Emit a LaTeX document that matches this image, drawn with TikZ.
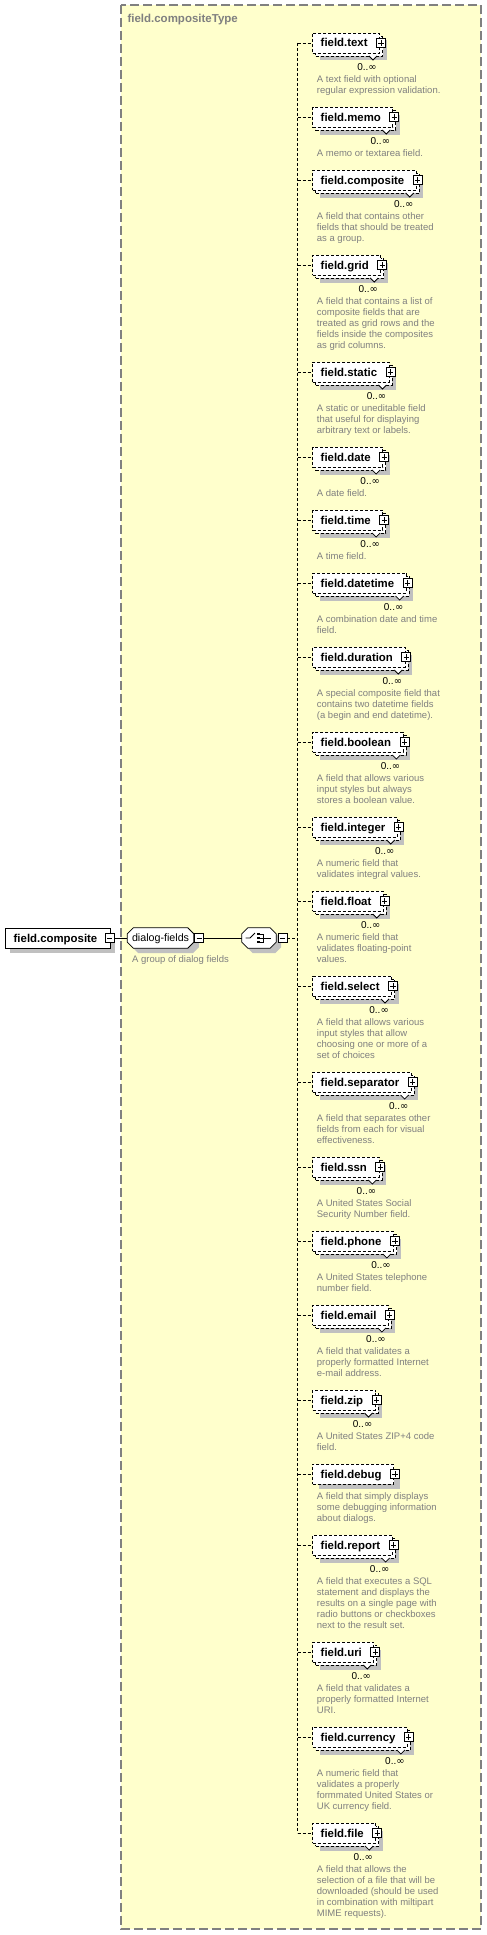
\documentclass[tikz,border=0pt]{standalone}
\usepackage{fontspec}
\setmainfont{Liberation Sans}
\newfontfamily\symfont{DejaVu Sans}
\usetikzlibrary{calc,shadows}
\definecolor{ylw}{HTML}{FFFFCC}
\definecolor{bordergray}{HTML}{808080}
\definecolor{shd}{HTML}{C0C0C0}
\definecolor{descgray}{HTML}{808080}
\pgfdeclarelayer{bg}
\pgfsetlayers{bg,main}
\tikzset{
  dsh/.style={dash pattern=on 3pt off 2pt},
  elname/.style={anchor=west, inner xsep=0pt, inner ysep=0pt, minimum height=20pt,
    text height=8.2pt, text depth=0.2pt, font=\fontsize{11.4}{13}\selectfont\bfseries},
  multbox/.style={elname, draw=black, dsh, line width=0.8pt, fill=white,
    general shadow={shadow xshift=7pt, shadow yshift=-7.5pt, fill=shd},
    general shadow={shadow xshift=3pt, shadow yshift=-3pt, fill=white, draw=black, dsh, line width=0.8pt}},
  singlebox/.style={elname, draw=black, dsh, line width=0.8pt, fill=white,
    general shadow={shadow xshift=6pt, shadow yshift=-5pt, fill=shd}},
  rootbox/.style={elname, draw=black, solid, line width=0.8pt, fill=white,
    general shadow={shadow xshift=4.5pt, shadow yshift=-4.5pt, fill=shd}},
  grp/.style={anchor=west, inner xsep=4.5pt, inner ysep=0pt, minimum height=20pt,
    text height=8pt, text depth=0.2pt, font=\fontsize{10.7}{13}\selectfont},
  seqn/.style={inner sep=0pt, minimum width=34pt, minimum height=20pt},
  octstyle/.style={draw=black, solid, line width=0.8pt, fill=white,
    general shadow={shadow xshift=5pt, shadow yshift=-5pt, fill=shd}},
  pbox/.style={draw=black, solid, line width=0.8pt, fill=white, minimum size=9pt, inner sep=0pt,
    path picture={\draw[line width=0.8pt]
      ([xshift=-2.6pt]path picture bounding box.center) -- ([xshift=2.6pt]path picture bounding box.center)
      ([yshift=-2.6pt]path picture bounding box.center) -- ([yshift=2.6pt]path picture bounding box.center);}},
  mbox/.style={draw=black, solid, line width=0.8pt, fill=white, minimum size=9pt, inner sep=0pt,
    path picture={\draw[line width=0.8pt]
      ([xshift=-2.6pt]path picture bounding box.center) -- ([xshift=2.6pt]path picture bounding box.center);}},
  symline/.style={draw=black, solid, line width=0.8pt},
  conn/.style={draw=black, line width=0.8pt, dsh},
  solidconn/.style={draw=black, line width=0.8pt},
  mult/.style={anchor=base east, inner sep=0pt, font=\fontsize{10}{12}\selectfont},
  desc/.style={anchor=north west, inner sep=0pt, align=left, text=descgray,
    font=\fontsize{9.5}{11}\selectfont},
  titletext/.style={anchor=base west, inner sep=0pt, text=bordergray,
    font=\fontsize{11.5}{13}\selectfont\bfseries},
}
\newcommand\multel[4]{%
  \node[multbox] (#1) at (312.3,#2) {\hspace*{8pt}#3\hspace*{12pt}};
  \draw[symline, fill=white] ($(#1.east)+(-11,13)$) -- ($(#1.east)+(-7,17)$) -- ($(#1.east)+(-3,13)$);
  \node[pbox] (#1p) at ($(#1.east)+(1,0)$) {};
  \node[mult] (#1m) at ($(#1.east)+(-3,27.5)$) {0..{\symfont ∞}};
  \node[desc] (#1d) at (316.7,#2+32) {#4};
  \begin{pgfonlayer}{bg}\draw[conn] (#1.west -| vtop) -- (#1.west);\end{pgfonlayer}
}
\newcommand\singleel[4]{%
  \node[singlebox] (#1) at (312.3,#2) {\hspace*{8pt}#3\hspace*{12pt}};
  \node[pbox] (#1p) at ($(#1.east)+(1,0)$) {};
  \node[desc] (#1d) at (316.7,#2+18) {#4};
  \begin{pgfonlayer}{bg}\draw[conn] (#1.west -| vtop) -- (#1.west);\end{pgfonlayer}
}
\newcommand\octo[2]{%
  \draw[octstyle] ($(#1.north west)+(#2,0)$) -- ($(#1.north east)+(-#2,0)$) -- ($(#1.north east)+(0,#2)$)
    -- ($(#1.south east)+(0,-#2)$) -- ($(#1.south east)+(-#2,0)$) -- ($(#1.south west)+(#2,0)$)
    -- ($(#1.south west)+(0,-#2)$) -- ($(#1.north west)+(0,#2)$) -- cycle;}
\begin{document}
\begin{tikzpicture}[x=1pt,y=-1pt]
\useasboundingbox (0,0) rectangle (487,1935);
\begin{pgfonlayer}{bg}
  \draw[fill=ylw, draw=bordergray, line width=1.2pt, dash pattern=on 9pt off 4pt] (121,5) rectangle (481,1929);
\end{pgfonlayer}
\node[titletext] (title) at (127.3,23) {field.compositeType};
\coordinate (vtop) at (297.5,43);
\coordinate (vbot) at (297.5,1833);
\begin{pgfonlayer}{bg}\draw[conn] (vtop) -- (vbot);\end{pgfonlayer}

% root element
\node[rootbox] (root) at (5.3,938) {\hspace*{8pt}field.composite\hspace*{13pt}};
\node[mbox] (rootm) at ($(root.east)+(-1,0)$) {};
% group
\node[grp] (dlg) at (127.3,938) {dialog-fields};
\node[mbox] (dlgm) at ($(dlg.east)+(5.3,0)$) {};
\node[desc] (dlgd) at (132,955) {A group of dialog fields};
% sequence compositor
\node[seqn] (seq) at (259,938) {};
\node[mbox] (seqm) at ($(seq.east)+(6.3,0)$) {};
\coordinate (vmid) at (seqm.east -| vtop);
\begin{pgfonlayer}{bg}
  \draw[solidconn] (rootm.east) -- (dlg.west);
  \draw[solidconn] (dlgm.east) -- (seq.west);
  \draw[conn] (seqm.east) -- (vmid);
  \octo{dlg}{6}
  \octo{seq}{6}
\end{pgfonlayer}
% sequence symbol
\draw[symline] ($(seq.center)+(-13.5,0)$) -- ($(seq.center)+(-9,0)$) -- ($(seq.center)+(-4,-5)$);
\fill ($(seq.center)+(-1.8,-5.3)$) rectangle ($(seq.center)+(0.8,-2.7)$);
\fill ($(seq.center)+(-1.8,-1.3)$) rectangle ($(seq.center)+(0.8,1.3)$);
\fill ($(seq.center)+(-1.8,2.7)$) rectangle ($(seq.center)+(0.8,5.3)$);
\draw[symline] ($(seq.center)+(0.8,-4)$) -- ($(seq.center)+(4,-4)$) -- ($(seq.center)+(4,4)$) -- ($(seq.center)+(0.8,4)$);
\draw[symline] ($(seq.center)+(0.8,0)$) -- ($(seq.center)+(12,0)$);

% children
\multel{e1}{43}{field.text}{A text field with optional\\regular expression validation.}
\multel{e2}{117}{field.memo}{A memo or textarea field.}
\multel{e3}{180}{field.composite}{A field that contains other\\fields that should be treated\\as a group.}
\multel{e4}{265}{field.grid}{A field that contains a list of\\composite fields that are\\treated as grid rows and the\\fields inside the composites\\as grid columns.}
\multel{e5}{372}{field.static}{A static or uneditable field\\that useful for displaying\\arbitrary text or labels.}
\multel{e6}{457}{field.date}{A date field.}
\multel{e7}{520}{field.time}{A time field.}
\multel{e8}{583}{field.datetime}{A combination date and time\\field.}
\multel{e9}{657}{field.duration}{A special composite field that\\contains two datetime fields\\(a begin and end datetime).}
\multel{e10}{742}{field.boolean}{A field that allows various\\input styles but always\\stores a boolean value.}
\multel{e11}{827}{field.integer}{A numeric field that\\validates integral values.}
\multel{e12}{901}{field.float}{A numeric field that\\validates floating-point\\values.}
\multel{e13}{986}{field.select}{A field that allows various\\input styles that allow\\choosing one or more of a\\set of choices}
\multel{e14}{1082}{field.separator}{A field that separates other\\fields from each for visual\\effectiveness.}
\multel{e15}{1167}{field.ssn}{A United States Social\\Security Number field.}
\multel{e16}{1241}{field.phone}{A United States telephone\\number field.}
\multel{e17}{1315}{field.email}{A field that validates a\\properly formatted Internet\\e-mail address.}
\multel{e18}{1400}{field.zip}{A United States ZIP+4 code\\field.}
\singleel{e19}{1474}{field.debug}{A field that simply displays\\some debugging information\\about dialogs.}
\multel{e20}{1545}{field.report}{A field that executes a SQL\\statement and displays the\\results on a single page with\\radio buttons or checkboxes\\next to the result set.}
\multel{e21}{1652}{field.uri}{A field that validates a\\properly formatted Internet\\URI.}
\multel{e22}{1737}{field.currency}{A numeric field that\\validates a properly\\formmated United States or\\UK currency field.}
\multel{e23}{1833}{field.file}{A field that allows the\\selection of a file that will be\\downloaded (should be used\\in combination with miltipart\\MIME requests).}
\end{tikzpicture}
\end{document}
